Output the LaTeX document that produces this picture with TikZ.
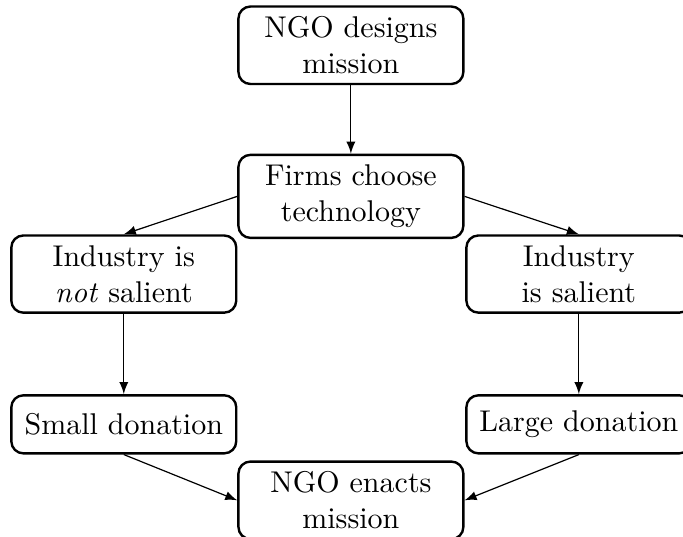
\documentclass[tikz,border=0pt]{standalone}
\usepackage{amsmath}
\usepackage{tikz}

\begin{document}
\begin{tikzpicture}[box/.style={draw, thick, rounded corners, text width=2.4cm, align=center, minimum height=0.68cm}]
    \useasboundingbox (0,0) rectangle (8.00,-6.28);

    \node[box] (design) at (4.11,-0.53) {NGO designs mission};
    \node[box] (firms) at (4.11,-2.30) {Firms choose technology};
    \node[box] (notsal) at (1.45,-3.21) {Industry is \emph{not} salient};
    \node[box] (sal) at (6.78,-3.21) {Industry\\ is salient};
    \node[box] (small) at (1.45,-4.97) {Small donation};
    \node[box] (large) at (6.78,-4.97) {Large donation};
    \node[box] (enacts) at (4.11,-5.86) {NGO enacts mission};

    \draw[-latex] (design.south) -- (firms.north);
    \draw[-latex] (firms.west) -- (notsal.north);
    \draw[-latex] (firms.east) -- (sal.north);
    \draw[-latex] (notsal.south) -- (small.north);
    \draw[-latex] (sal.south) -- (large.north);
    \draw[-latex] (small.south) -- (enacts.west);
    \draw[-latex] (large.south) -- (enacts.east);
\end{tikzpicture}
\end{document}
